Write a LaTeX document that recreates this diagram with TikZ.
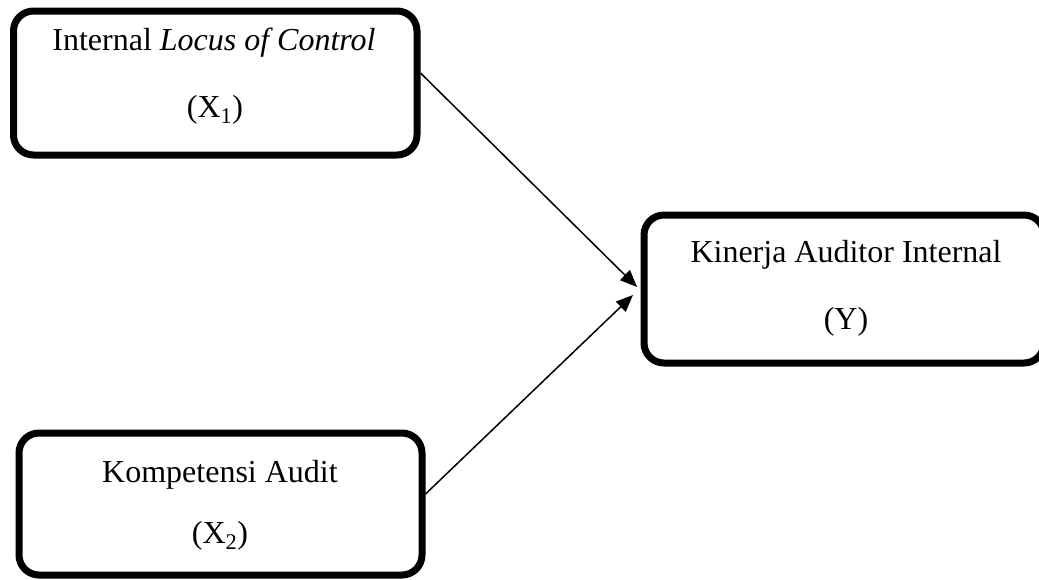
\documentclass[tikz,border=0pt]{standalone}
\usepackage{fontspec}
\setmainfont{Liberation Serif}
\usetikzlibrary{arrows.meta}
\begin{document}
\begin{tikzpicture}[x=1pt,y=-1pt,
  varbox/.style={draw=black, line width=7pt, rounded corners=20pt, rectangle, inner sep=0pt},
  lbl/.style={anchor=base, inner sep=0pt, font=\fontsize{32}{38}\selectfont},
  conn/.style={line width=1.5pt, -{Triangle[length=17pt,width=14pt]}}]
\useasboundingbox (0,0) rectangle (1039,579);
\clip (0,0) rectangle (1039,579);
\node[varbox, minimum width=403.5pt, minimum height=144pt] (x1) at (215.25,83) {};
\node[varbox, minimum width=400pt, minimum height=148pt] (y) at (844,289) {};
\node[varbox, minimum width=403pt, minimum height=142pt] (x2) at (220.5,504) {};
\node[lbl] (x1a) at (214,50) {Internal \textit{Locus of Control}};
\node[lbl] (x1b) at (215,117) {(X\textsubscript{1})};
\node[lbl] (ya) at (846,262) {Kinerja Auditor Internal};
\node[lbl] (yb) at (846,329) {(Y)};
\node[lbl] (x2a) at (220,482) {Kompetensi Audit};
\node[lbl] (x2b) at (220,543) {(X\textsubscript{2})};
\draw[conn] ([yshift=10pt]x1.east) -- ([xshift=-3.5pt,yshift=2pt]y.west);
\draw[conn] ([yshift=10pt]x2.east) -- ([xshift=-7.5pt,yshift=-6pt]y.west);
\end{tikzpicture}
\end{document}
